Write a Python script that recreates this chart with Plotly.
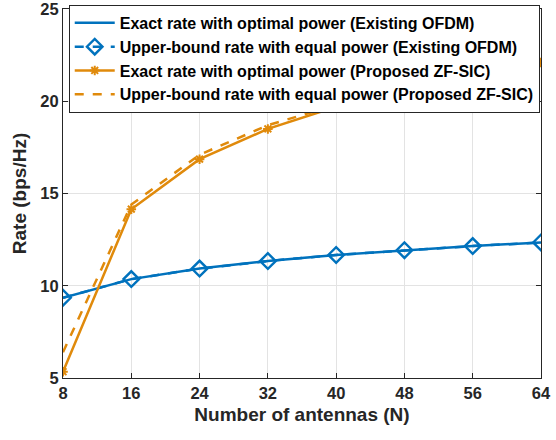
import plotly.graph_objects as go

# Number of antennas
antennas = [8, 16, 24, 32, 40, 48, 56, 64]

# Achievable rates (bps/Hz)
ofdm_exact = [9.35, 10.36, 10.93, 11.34, 11.67, 11.93, 12.15, 12.35]
ofdm_upper = [9.35, 10.36, 10.93, 11.34, 11.67, 11.93, 12.15, 12.35]
zfsic_exact = [5.34, 14.15, 16.86, 18.50, 19.70, 20.60, 21.40, 22.10]
zfsic_upper = [6.40, 14.40, 17.10, 18.70, 19.80, 20.70, 21.50, 22.20]

x_ticks = [8, 16, 24, 32, 40, 48, 56, 64]
y_ticks = [5, 10, 15, 20, 25]

BLUE = "#0072BD"
ORANGE = "#E08A0B"
FONT = "Liberation Sans, Arial, sans-serif"

fig = go.Figure()
fig.add_trace(go.Scatter(
    x=antennas, y=ofdm_exact, mode="lines",
    name="<b>Exact rate with optimal power (Existing OFDM)</b>",
    line=dict(color=BLUE, width=2.5),
))
fig.add_trace(go.Scatter(
    x=antennas, y=ofdm_upper, mode="lines+markers",
    name="<b>Upper-bound rate with equal power (Existing OFDM)</b>",
    line=dict(color=BLUE, width=2.5, dash="dash"),
    marker=dict(symbol="diamond-open", size=12, color=BLUE, line=dict(width=2.4, color=BLUE)),
))
fig.add_trace(go.Scatter(
    x=antennas, y=zfsic_exact, mode="lines+markers",
    name="<b>Exact rate with optimal power (Proposed ZF-SIC)</b>",
    line=dict(color=ORANGE, width=2.5),
    marker=dict(symbol="asterisk-open", size=8, color=ORANGE, line=dict(width=2, color=ORANGE)),
))
fig.add_trace(go.Scatter(
    x=antennas, y=zfsic_upper, mode="lines",
    name="<b>Upper-bound rate with equal power (Proposed ZF-SIC)</b>",
    line=dict(color=ORANGE, width=2.5, dash="dash"),
))

axis_common = dict(
    showline=True, linecolor="#262626", linewidth=1, mirror="ticks",
    showgrid=True, gridcolor="#E3E3E3", gridwidth=1,
    ticks="inside", ticklen=5, tickcolor="#262626",
    tickfont=dict(family=FONT, size=16.5, color="#262626"),
    zeroline=False,
)

fig.update_layout(
    width=556, height=440,
    margin=dict(l=63, r=15, t=9, b=62, autoexpand=False),
    paper_bgcolor="white", plot_bgcolor="white",
    font=dict(family=FONT, color="#262626"),
    showlegend=True,
    legend=dict(
        x=0.012, y=1.011, xanchor="left", yanchor="top",
        bgcolor="white", bordercolor="#262626", borderwidth=1,
        font=dict(family=FONT, size=16, color="black"),
        tracegroupgap=0, itemwidth=40,
    ),
    xaxis=dict(
        range=[8, 64], tickvals=x_ticks,
        ticktext=[f"<b>{t}</b>" for t in x_ticks],
        title=dict(text="<b>Number of antennas (N)</b>", font=dict(family=FONT, size=19, color="#262626"), standoff=6),
        **axis_common,
    ),
    yaxis=dict(
        range=[5, 25], tickvals=y_ticks,
        ticktext=[f"<b>{t}</b>" for t in y_ticks],
        ticklabeloverflow="allow",
        title=dict(text="<b>Rate (bps/Hz)</b>", font=dict(family=FONT, size=19, color="#262626"), standoff=8),
        **axis_common,
    ),
)

fig.write_html("out.html")
